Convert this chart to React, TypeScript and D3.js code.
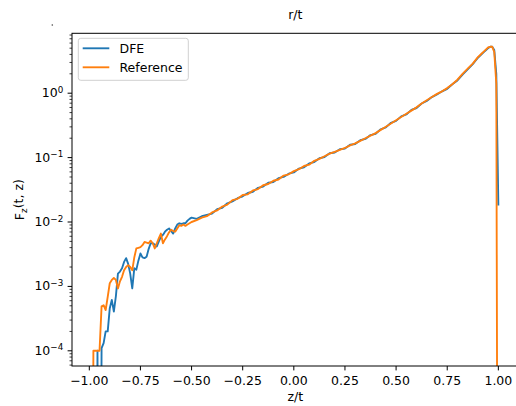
import React from 'react';
import * as d3 from 'd3';

// z/t grid: fine steps on the noisy left tail, coarser on the smooth middle, fine at the peak
const zGrid = [
  ...d3.range(-99, -49).map(i => i / 100),
  ...d3.range(-19, 37).map(i => i / 40),
  ...d3.range(91, 101).map(i => i / 100),
];

// F_z(t, z) (0 = nothing, falls below the axis on log scale)
const dfe = [
  0, 0, 0, 1.0e-4, 0, 1.1e-4, 1.32e-4, 2.0e-4, 2.0e-4, 4.57e-4,
  6.17e-4, 4.07e-4, 7.08e-4, 1.58e-3, 1.70e-3, 1.91e-3, 2.40e-3, 2.75e-3, 2.24e-3, 1.58e-3,
  9.3e-4, 1.91e-3, 1.82e-3, 2.51e-3, 3.24e-3, 2.82e-3, 2.75e-3, 2.88e-3, 3.80e-3, 4.68e-3,
  4.68e-3, 4.47e-3, 4.17e-3, 5.01e-3, 5.89e-3, 6.31e-3, 7.08e-3, 7.59e-3, 7.94e-3, 7.24e-3,
  6.61e-3, 7.94e-3, 9.12e-3, 9.55e-3, 9.33e-3, 9.55e-3, 9.55e-3, 1.05e-2, 1.12e-2, 1.17e-2,
  1.12e-2, 1.23e-2, 1.29e-2, 1.35e-2, 1.58e-2, 1.66e-2, 1.95e-2, 2.09e-2, 2.34e-2, 2.51e-2,
  2.82e-2, 2.95e-2, 3.39e-2, 3.55e-2, 4.07e-2, 4.17e-2, 4.79e-2, 5.01e-2, 5.62e-2, 5.89e-2,
  6.76e-2, 7.08e-2, 8.13e-2, 8.51e-2, 9.77e-2, 0.102, 0.117, 0.120, 0.135, 0.138,
  0.158, 0.162, 0.186, 0.195, 0.224, 0.234, 0.275, 0.295, 0.347, 0.372,
  0.437, 0.468, 0.550, 0.589, 0.692, 0.759, 0.871, 0.955, 1.07, 1.17,
  1.38, 1.58, 1.95, 2.34, 2.82, 3.55,
  3.80, 4.07, 4.37, 4.68, 5.01, 5.25, 5.25, 4.68, 2.0, 0.018,
];

const reference = [
  0, 1.0e-4, 1.0e-4, 1.0e-4, 1.0e-4, 4.9e-4, 5.1e-4, 4.3e-4, 6.9e-4, 1.12e-3,
  1.26e-3, 1.35e-3, 1.26e-3, 9.3e-4, 1.20e-3, 1.41e-3, 1.78e-3, 2.0e-3, 2.14e-3, 2.0e-3,
  1.78e-3, 2.82e-3, 3.89e-3, 3.98e-3, 4.07e-3, 4.37e-3, 4.90e-3, 4.79e-3, 4.68e-3, 5.13e-3,
  4.68e-3, 3.89e-3, 4.68e-3, 5.62e-3, 6.61e-3, 4.68e-3, 5.37e-3, 6.03e-3, 6.92e-3, 7.59e-3,
  7.24e-3, 7.08e-3, 7.94e-3, 8.91e-3, 8.71e-3, 9.12e-3, 8.71e-3, 9.12e-3, 9.55e-3, 1.0e-2,
  1.07e-2, 1.17e-2, 1.23e-2, 1.41e-2, 1.51e-2, 1.74e-2, 1.86e-2, 2.19e-2, 2.29e-2, 2.63e-2,
  2.69e-2, 3.09e-2, 3.24e-2, 3.72e-2, 3.89e-2, 4.37e-2, 4.57e-2, 5.25e-2, 5.50e-2, 6.17e-2,
  6.61e-2, 7.41e-2, 7.76e-2, 8.91e-2, 9.55e-2, 0.105, 0.115, 0.123, 0.132, 0.141,
  0.155, 0.166, 0.182, 0.200, 0.219, 0.240, 0.269, 0.302, 0.339, 0.380,
  0.427, 0.479, 0.537, 0.603, 0.692, 0.776, 0.871, 0.977, 1.07, 1.20,
  1.38, 1.62, 2.00, 2.40, 2.88, 3.63,
  3.89, 4.17, 4.47, 4.79, 5.13, 5.25, 5.25, 4.37, 1.41, 0,
];

const seriesNames = ['DFE', 'Reference'];
const seriesColors = ['#1f77b4', '#ff7f0e'];
const xTicks = [-1, -0.75, -0.5, -0.25, 0, 0.25, 0.5, 0.75, 1];
const yExponents = [-4, -3, -2, -1, 0];

const FONT = '"DejaVu Sans", sans-serif';
const FS = 12.5;

export default function App() {
  const W = 516, H = 406;
  const left = 72, right = 518.6, top = 33.3, bottom = 366;

  const x = d3.scaleLinear().domain([-1.0846, 1.099]).range([left, right]);
  const y = d3.scaleLog().domain([5.81e-5, 8.51]).range([bottom, top]);

  const line = d3.line<number>()
    .x((_, i) => x(zGrid[i]))
    .y(d => y(Math.max(d, 1e-12)));

  // minor ticks 2..9 x 10^k inside the domain
  const [y0, y1] = y.domain();
  const minor: number[] = [];
  for (let k = -5; k <= 0; k++) {
    for (let m = 2; m <= 9; m++) {
      const v = m * Math.pow(10, k);
      if (v >= y0 && v <= y1) minor.push(v);
    }
  }
  const fmt = d3.format('.2f');

  return (
    <svg width={W} height={H} style={{ position: 'absolute', left: 0, top: 0, background: '#fff' }}
      fontFamily={FONT}>
      <defs>
        <clipPath id="plot">
          <rect x={left} y={top} width={right - left} height={bottom - top} />
        </clipPath>
      </defs>

      {/* stray dot from the original figure */}
      <circle cx={52.3} cy={25} r={0.8} fill="#444" />

      <text x={(left + right) / 2} y={19} textAnchor="middle" fontSize={FS}>r/t</text>

      <g clipPath="url(#plot)">
        {[dfe, reference].map((s, i) => (
          <path key={i} d={line(s) || ''} fill="none" stroke={seriesColors[i]}
            strokeWidth={1.875} strokeLinejoin="round" />
        ))}
      </g>

      {/* x axis */}
      {xTicks.map(t => (
        <g key={t} transform={`translate(${x(t)},${bottom})`}>
          <line y2={4.4} stroke="#000" strokeWidth={1} />
          <text y={8.8} dy="0.78em" textAnchor="middle" fontSize={FS}>{fmt(t)}</text>
        </g>
      ))}
      <text x={(left + right) / 2} y={401} textAnchor="middle" fontSize={FS}>z/t</text>

      {/* y axis */}
      {minor.map(v => (
        <line key={v} x1={left} x2={left - 2.5} y1={y(v)} y2={y(v)} stroke="#000" strokeWidth={0.75} />
      ))}
      {yExponents.map(e => (
        <g key={e} transform={`translate(${left},${y(Math.pow(10, e))})`}>
          <line x2={-4.4} stroke="#000" strokeWidth={1} />
          <text x={-8.8} dy="0.32em" textAnchor="end" fontSize={FS}>
            10<tspan dy="-0.5em" fontSize={FS * 0.7}>{e < 0 ? `\u2212${-e}` : `${e}`}</tspan>
          </text>
        </g>
      ))}
      <text transform={`translate(24,${(top + bottom) / 2}) rotate(-90)`} textAnchor="middle" fontSize={FS}>
        F<tspan dy="0.3em" fontSize={FS * 0.7}>z</tspan><tspan dy="-0.3em">(t, z)</tspan>
      </text>

      {/* spines */}
      <rect x={left} y={top} width={right - left} height={bottom - top} fill="none" stroke="#000" strokeWidth={1} />

      {/* legend */}
      <g>
        <rect x={78.3} y={38.3} width={110} height={42} rx={2.5} fill="#fff" fillOpacity={0.8}
          stroke="#d0d0d0" strokeWidth={1} />
        {seriesNames.map((n, i) => (
          <g key={n} transform={`translate(0,${48.3 + i * 19})`}>
            <line x1={82.7} x2={109.3} stroke={seriesColors[i]} strokeWidth={1.875} />
            <text x={119.5} dy="0.36em" fontSize={FS}>{n}</text>
          </g>
        ))}
      </g>
    </svg>
  );
}
